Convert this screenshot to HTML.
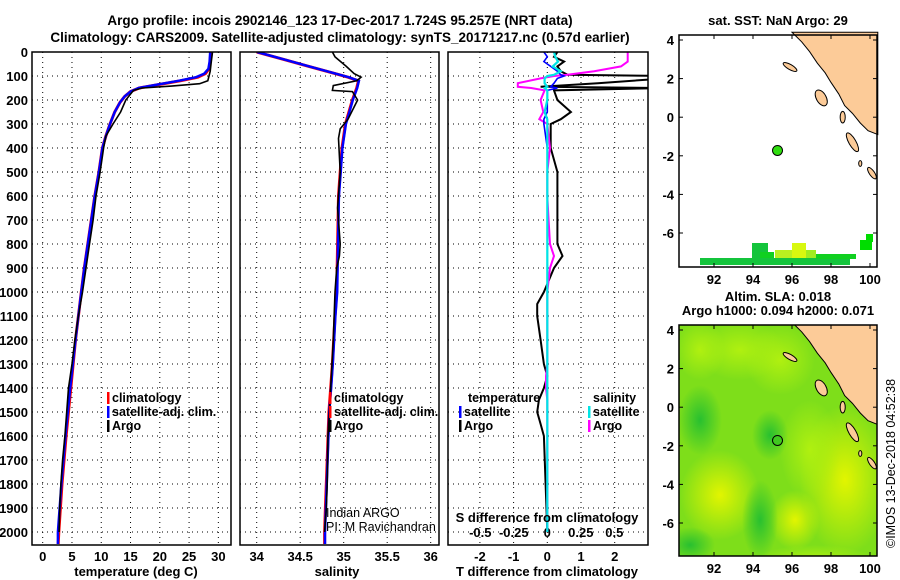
<!DOCTYPE html>
<html><head><meta charset="utf-8"><style>
html,body{margin:0;padding:0;background:#fff;}
svg{display:block;font-family:"Liberation Sans",sans-serif;font-weight:bold;}
</style></head><body>
<svg id="c" width="900" height="580" viewBox="0 0 900 580" xmlns="http://www.w3.org/2000/svg">
<text x="340" y="25" text-anchor="middle" font-size="13.5">Argo profile: incois 2902146_123 17-Dec-2017 1.724S 95.257E (NRT data)</text>
<text x="340" y="42" text-anchor="middle" font-size="13.5">Climatology: CARS2009. Satellite-adjusted climatology: synTS_20171217.nc (0.57d earlier)</text>
<g id="g"></g>
</svg>
<script>
// ---- data ----
const depthTicks=[0,100,200,300,400,500,600,700,800,900,1000,1100,1200,1300,1400,1500,1600,1700,1800,1900,2000];
const tempTicks=[0,5,10,15,20,25,30];
const salTicks=[34,34.5,35,35.5,36];
const tdTicks=[-2,-1,0,1,2];
const sdTicks=[-0.5,-0.25,0,0.25,0.5];
const climDepth=[0,40,70,90,105,120,135,150,165,185,210,250,300,350,400,500,600,700,800,900,1000,1200,1400,1600,1800,2000,2050];
const climTemp=[28.7,28.6,28.4,27.8,26.5,23.5,20.0,16.5,15.0,14.0,13.2,12.3,11.5,10.8,10.2,9.6,8.9,8.3,7.7,7.1,6.6,5.6,4.8,4.0,3.3,2.75,2.65];
const satTemp=[28.6,28.5,28.3,27.6,26.2,23.2,19.8,16.4,15.0,14.0,13.2,12.3,11.5,10.8,10.2,9.6,8.9,8.3,7.7,7.1,6.6,5.6,4.7,3.9,3.2,2.6,2.6];
const argoDepth=[0,40,80,100,120,132,142,150,160,200,250,300,350,400,500,600,700,800,900,1000,1100,1200,1300,1400,1500,1600,1700,1800,1900,2000];
const argoTemp=[29.0,28.8,28.6,28.4,28.2,26.8,22,17,15.5,14.2,13.3,12.0,10.8,10.4,9.8,9.1,8.6,8.0,7.4,6.8,6.1,5.5,5.0,4.4,4.1,3.8,3.4,3.1,2.9,2.8];
const climSal=[34.0,34.3,34.6,34.9,35.05,35.17,35.15,35.1,35.06,35.02,34.98,34.96,34.94,34.93,34.92,34.9,34.87,34.85,34.83,34.81,34.79,34.78,34.78];
const climSalDepth=[0,30,60,90,105,120,150,200,250,300,400,500,600,800,1000,1100,1300,1400,1500,1700,1900,2000,2050];
const argoSal=[34.87,34.9,35.03,35.12,35.2,35.15,34.88,34.87,35.1,35.16,35.05,34.96,34.94,34.96,34.93,34.96,34.95,34.92,34.9,34.88,34.85,34.82,34.81,34.8,34.78];
const argoSalDepth=[0,20,60,90,105,120,140,160,165,200,280,320,360,500,650,800,850,900,1000,1200,1400,1600,1800,1900,2000];
const diffDepth=[0,20,40,60,80,95,100,110,130,145,150,160,200,250,280,300,400,500,600,700,800,850,900,1000,1050,1100,1200,1300,1350,1400,1450,1500,1550,1600,1800,2000];
const argoTDiff=[0.3,0.2,0.5,0.3,0.4,0.6,3.5,3.5,1.5,-0.2,3.5,0.2,0.3,0.7,0.4,0.1,0.1,0.3,0.3,0.3,0.3,0.45,0.2,-0.1,-0.3,-0.3,-0.2,-0.1,0.0,-0.1,-0.25,-0.3,-0.2,-0.1,-0.05,0.0];
const satTDiff=[-0.1,0.0,-0.1,0.1,0.3,0.4,0.5,0.3,0.2,0.1,0.3,0.0,0.0,0.0,-0.1,-0.1,0.0,0.0,0.0,0.0,0.0,0.0,0.0,0.0,0.0,0.0,0.0,0.0,0.0,0.0,0.0,0.0,0.0,0.0,0.0,0.0];
const argoSDiff=[0.6,0.6,0.6,0.55,0.35,0.15,0.05,-0.05,-0.22,-0.22,-0.12,-0.02,-0.05,-0.03,-0.06,0.0,0.02,0.0,0.0,0.01,0.02,0.05,0.02,0.0,0.0,0.0,0.0,0.0,-0.01,-0.01,0.0,0.0,0.0,0.0,0.0,0.0];
const satSDiff=[0.05,0.06,0.08,0.04,0.1,0.05,0.0,-0.02,-0.02,0.0,-0.02,0.0,0.0,-0.02,0.0,0.0,0.0,0.0,0.0,0.0,0.0,0.0,0.0,0.0,0.0,0.0,0.0,0.0,0.0,0.0,0.0,0.0,0.0,0.0,0.0,0.0];
const lonTicks=[92,94,96,98,100];
const latTicks=[4,2,0,-2,-4,-6];
const floatLon=95.257, floatLat=-1.724;

const NS="http://www.w3.org/2000/svg";
const G=document.getElementById('g');
function el(t,a,p){const e=document.createElementNS(NS,t);for(const k in a)e.setAttribute(k,a[k]);(p||G).appendChild(e);return e;}
const y=d=>52+d*0.24;
const PB=545;
function frame(x0,x1,name){
  const r=el('rect',{x:x0,y:52,width:x1-x0,height:PB-52,fill:'none',stroke:'#000','stroke-width':1.5});
  
  
}
function grid(x0,x1,xs,fx){
  depthTicks.forEach(d=>{if(d>0){const l=el('line',{x1:x0,x2:x1,y1:y(d),y2:y(d),stroke:'#000','stroke-dasharray':'1,4'});
  
  }});
  xs.forEach(v=>{const l=el('line',{x1:fx(v),x2:fx(v),y1:52,y2:PB,stroke:'#000','stroke-dasharray':'1,4'});
  
  });
}
function line(xs,ds,fx,col,w,name,clip){
  const pts=xs.map((v,i)=>fx(v).toFixed(1)+','+y(ds[i]).toFixed(1)).join(' ');
  const p=el('polyline',{points:pts,fill:'none',stroke:col,'stroke-width':w,'clip-path':clip||''});
  
  
}
function txt(x,yy,s,o){const t=el('text',Object.assign({x:x,y:yy,'font-size':13},o||{}));t.textContent=s;return t;}
const defs=el('defs',{});
[[32,231,'c1'],[240,439,'c2'],[448,648,'c3']].forEach(([a,b,id])=>{const cp=el('clipPath',{id:id},defs);el('rect',{x:a,y:52,width:b-a,height:PB-52},cp);});

// Panel 1
const fT=v=>42.7+v*5.855;
grid(32,231,tempTicks,fT);
depthTicks.forEach(d=>{const t=txt(28,y(d)+5,String(d),{'text-anchor':'end'});

});
tempTicks.forEach(v=>{const t=txt(fT(v),561,String(v),{'text-anchor':'middle'});

});
line(climTemp,climDepth,fT,'#ff0000',3,'temp-climatology-line','url(#c1)');
line(satTemp,climDepth,fT,'#0000ff',2.5,'temp-satellite-line','url(#c1)');
line(argoTemp,argoDepth,fT,'#000',1.6,'temp-argo-line','url(#c1)');
frame(32,231,'temperature-panel');
let t=txt(136,576,'temperature (deg C)',{'text-anchor':'middle'});


function legend(x,y0,items,pfx){items.forEach((it,i)=>{
  const r=el('rect',{x:x,y:y0+i*14-10,width:2.5,height:12,fill:it[1]});
  
  
  const tt=txt(x+5,y0+i*14,it[0],{'font-size':12.5});
  
  
});}
legend(107,402,[['climatology','#ff0000'],['satellite-adj. clim.','#0000ff'],['Argo','#000']],'temp');

// Panel 2
const fS=v=>256.7+(v-34)*87;
grid(240,439,salTicks,fS);
salTicks.forEach(v=>{const t=txt(fS(v),561,String(v),{'text-anchor':'middle'});

});
line(climSal,climSalDepth,fS,'#ff0000',3,'sal-climatology-line','url(#c2)');
line(climSal.map(v=>v+0.005),climSalDepth,fS,'#0000ff',2.5,'sal-satellite-line','url(#c2)');
line(argoSal,argoSalDepth,fS,'#000',1.6,'sal-argo-line','url(#c2)');
frame(240,439,'salinity-panel');
t=txt(337,576,'salinity',{'text-anchor':'middle'});


legend(329,402,[['climatology','#ff0000'],['satellite-adj. clim.','#ff0000'],['Argo','#000']],'sal');
t=txt(326,517,'Indian ARGO',{'font-weight':'normal','font-size':12.5});


t=txt(326,531,'PI: M Ravichandran',{'font-weight':'normal','font-size':12.5});



// Panel 3
const fTD=v=>547.3+v*33.7;
const fSD=v=>547.3+v*134;
grid(448,648,tdTicks,fTD);
tdTicks.forEach(v=>{const t=txt(fTD(v),561,String(v),{'text-anchor':'middle'});

});
sdTicks.forEach(v=>{const t=txt(fSD(v),537,String(v),{'text-anchor':'middle'});

});
line(argoTDiff,diffDepth,fTD,'#000',2,'tdiff-argo-line','url(#c3)');
line(argoSDiff,diffDepth,fSD,'#ff00ff',2,'sdiff-argo-line','url(#c3)');
line(satTDiff,diffDepth,fTD,'#0000ff',1.6,'tdiff-satellite-line','url(#c3)');
line(satSDiff,diffDepth,fSD,'#00e5e5',2.2,'sdiff-satellite-line','url(#c3)');
frame(448,648,'difference-panel');
t=txt(547,522,'S difference from climatology',{'text-anchor':'middle'});


t=txt(547,576,'T difference from climatology',{'text-anchor':'middle'});


t=txt(468,402,'temperature',{'font-size':12.5});
t=txt(593,402,'salinity',{'font-size':12.5});
legend(459,416,[['satellite','#0000ff'],['Argo','#000']],'tdiff');
legend(588,416,[['satellite','#00e5e5'],['Argo','#ff00ff']],'sdiff');

// Maps
function mapAxes(lat4,latm6){
  const fx=v=>714+(v-92)*19.5;
  const fy=v=>lat4+(4-v)*(latm6-lat4)/10;
  return {fx,fy};
}
function land(m,parent,name){
  const coast=[[96.0,4.4],[96.5,3.9],[96.9,3.4],[97.3,2.8],[97.7,2.3],[98.0,1.8],[98.4,1.2],[98.7,0.6],[99.1,0.2],[99.5,-0.3],[99.9,-0.7],[100.4,-0.9],[100.4,4.4]];
  const p=el('polygon',{points:coast.map(c=>m.fx(c[0])+','+m.fy(c[1])).join(' '),fill:'#fccb98',stroke:'#000','stroke-width':1},parent);
  
  
  const isl=[[95.9,2.6,0.4,0.13,30],[97.5,1.0,0.25,0.45,-30],[98.6,0.0,0.13,0.3,0],[99.1,-1.3,0.18,0.55,-30],[100.1,-2.9,0.13,0.35,-35],[99.5,-2.4,0.08,0.15,0]];
  isl.forEach(i=>{const e=el('ellipse',{cx:m.fx(i[0]),cy:m.fy(i[1]),rx:i[2]*19.5,ry:i[3]*19.3,fill:'#fccb98',stroke:'#000','stroke-width':1,transform:`rotate(${i[4]} ${m.fx(i[0])} ${m.fy(i[1])})`},parent);
  
  });
}
function mapTicks(m,y0,y1,name){
  latTicks.forEach(v=>{const tt=txt(674,m.fy(v)+5,String(v),{'text-anchor':'end'});
  
  
  el('line',{x1:679,x2:683,y1:m.fy(v),y2:m.fy(v),stroke:'#000'});el('line',{x1:873,x2:877,y1:m.fy(v),y2:m.fy(v),stroke:'#000'});});
  lonTicks.forEach(v=>{const tt=txt(m.fx(v),y1+17,String(v),{'text-anchor':'middle'});
  
  
  el('line',{x1:m.fx(v),x2:m.fx(v),y1:y0,y2:y0+4,stroke:'#000'});el('line',{x1:m.fx(v),x2:m.fx(v),y1:y1-4,y2:y1,stroke:'#000'});});
  const r=el('rect',{x:679,y:y0,width:198,height:y1-y0,fill:'none',stroke:'#000','stroke-width':1.5});
  
  
}
// SST map
const m1=mapAxes(40,233);
const g1=el('g',{});


[[700,258,150,7,'#14c43c'],[752,243,16,16,'#14c43c'],[760,252,14,6,'#10d020'],[775,250,18,8,'#b8f020'],[792,243,14,15,'#d8f810'],[806,250,10,8,'#a0ec20'],[816,254,40,5,'#10d020'],[860,240,12,10,'#00dd00'],[866,234,7,8,'#00dd00']].forEach(b=>{const r=el('rect',{x:b[0],y:b[1],width:b[2],height:b[3],fill:b[4]},g1);});
land(m1,g1,'sst-map');
const dot1=el('circle',{cx:m1.fx(floatLon),cy:m1.fy(floatLat),r:5,fill:'#30dd10',stroke:'#000','stroke-width':1});


mapTicks(m1,35,267,'sst-map');
t=txt(778,25,'sat. SST: NaN Argo: 29',{'text-anchor':'middle'});

// SLA map
const m2=mapAxes(330,523);
const gd=el('defs',{});
const rg=(id,c)=>{const g=el('radialGradient',{id:id},gd);el('stop',{offset:'0%','stop-color':c,'stop-opacity':1},g);el('stop',{offset:'100%','stop-color':c,'stop-opacity':0},g);};
rg('yl','#e2f500');rg('dg','#28c030');rg('lg','#b0f010');
const g2=el('g',{'clip-path':'url(#mc2)'});


const mc=el('clipPath',{id:'mc2'},gd);el('rect',{x:679,y:325,width:198,height:231},mc);
el('rect',{x:679,y:325,width:198,height:231,fill:'#7ede1a'},g2);
[[720,495,40,45,'yl'],[845,480,45,75,'yl'],[810,450,30,50,'lg'],[795,520,25,30,'yl'],[780,360,35,35,'lg'],[740,350,45,30,'lg'],[700,420,22,35,'dg'],[770,435,18,25,'dg'],[760,520,18,40,'dg'],[690,545,25,18,'dg'],[815,560,60,15,'lg'],[700,350,25,30,'lg']].forEach(b=>{el('ellipse',{cx:b[0],cy:b[1],rx:b[2],ry:b[3],fill:`url(#${b[4]})`},g2);});
land(m2,g2,'sla-map');
const dot2=el('circle',{cx:m2.fx(floatLon),cy:m2.fy(floatLat),r:5,fill:'#40c820',stroke:'#000','stroke-width':1});


mapTicks(m2,325,556,'sla-map');
t=txt(778,301,'Altim. SLA: 0.018',{'text-anchor':'middle'});

t=txt(778,315,'Argo h1000: 0.094 h2000: 0.071',{'text-anchor':'middle'});

t=txt(0,0,'©IMOS 13-Dec-2018 04:52:38',{'font-weight':'normal','font-size':12.5,'transform':'translate(895,548) rotate(-90)'});

</script>
</body></html>
